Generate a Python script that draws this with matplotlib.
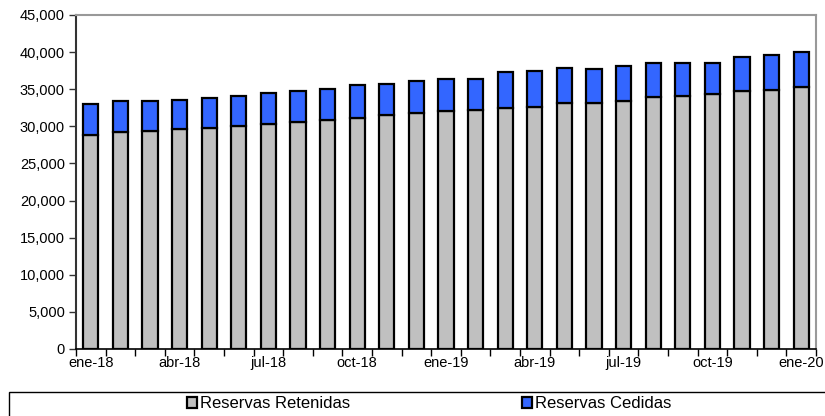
import matplotlib
matplotlib.use("Agg")
import matplotlib.pyplot as plt
from matplotlib.patches import Rectangle
import numpy as np

months = ["ene-18", "feb-18", "mar-18", "abr-18", "may-18", "jun-18", "jul-18", "ago-18",
          "sep-18", "oct-18", "nov-18", "dic-18", "ene-19", "feb-19", "mar-19", "abr-19",
          "may-19", "jun-19", "jul-19", "ago-19", "sep-19", "oct-19", "nov-19", "dic-19", "ene-20"]
retenidas = [28800, 29170, 29350, 29580, 29800, 30030, 30300, 30570, 30790, 31150, 31510, 31780,
             32050, 32140, 32450, 32630, 33080, 33080, 33440, 33940, 34120, 34300, 34740, 34880, 35330]
totales = [33040, 33400, 33400, 33530, 33800, 34070, 34480, 34740, 34970, 35550, 35730, 36050,
           36360, 36360, 37300, 37490, 37840, 37660, 38070, 38560, 38520, 38560, 39370, 39550, 40000]
cedidas = [t - r for t, r in zip(totales, retenidas)]
series_labels = ["Reservas Retenidas", "Reservas Cedidas"]
yticks = list(range(0, 45001, 5000))

font = "Liberation Sans"

fig = plt.figure(figsize=(8.25, 4.16), dpi=100)
ax = fig.add_axes([76/825, 1-349/416, (816-76)/825, (349-15)/416])

x = np.arange(len(months))
b1 = ax.bar(x, retenidas, width=0.52, color="#C0C0C0", edgecolor="black", linewidth=1.6, zorder=2)
b2 = ax.bar(x, cedidas, bottom=retenidas, width=0.52, color="#3366FF", edgecolor="black", linewidth=1.6, zorder=2)

ax.set_xlim(-0.5, len(months) - 0.5)
ax.set_ylim(0, 45000)
ax.set_yticks(yticks)
ax.set_yticklabels([f"{v:,}" for v in yticks], fontsize=10.5, family=font)
ax.tick_params(axis="y", direction="out", length=5, width=1, color="#333333", pad=3)

ax.set_xticks(x[::3])
ax.set_xticklabels(months[::3], fontsize=10.5, family=font)
ax.tick_params(axis="x", which="major", length=0, pad=5)
ax.set_xticks(np.arange(-0.5, len(months), 1.0), minor=True)
ax.tick_params(axis="x", which="minor", direction="out", length=5, width=1, color="black")

for s in ["top", "right"]:
    ax.spines[s].set_color("#999999")
    ax.spines[s].set_linewidth(1.5)
ax.spines["left"].set_color("#333333")
ax.spines["left"].set_linewidth(1.5)
ax.spines["bottom"].set_color("black")
ax.spines["bottom"].set_linewidth(1.2)

fig.patches.append(Rectangle((9/825, -0.05), 1.0, 1-392/416 + 0.05, transform=fig.transFigure,
                             fill=False, edgecolor="black", linewidth=1.0))
fig.legend([b1, b2], series_labels, ncol=2, frameon=False, loc="center",
           bbox_to_anchor=(429/825, 1-404/416), handlelength=0.6, handleheight=0.6,
           handletextpad=0.2, columnspacing=10.3,
           prop={"family": font, "size": 12})

fig.savefig("out.png", dpi=100)
